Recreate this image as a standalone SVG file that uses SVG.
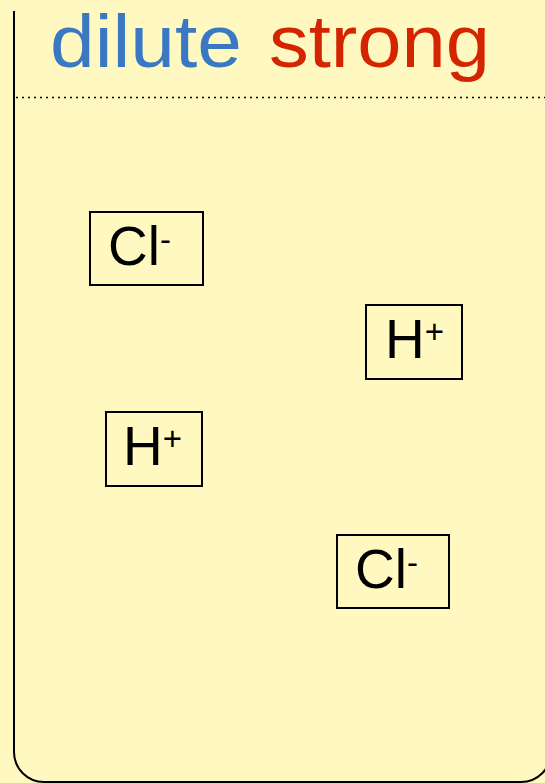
<svg xmlns="http://www.w3.org/2000/svg" width="545" height="783" viewBox="0 0 545 783">
<style>
.ion{fill:none;stroke:#000;stroke-width:2}
.t{font-family:"Liberation Sans",Arial,sans-serif;font-size:55px;fill:#000}
.sup{font-size:33px}
.title{font-family:"Liberation Sans",Arial,sans-serif;font-size:74px}
</style>
<rect x="0" y="0" width="545" height="783" fill="#FFF9C1"/>
<g id="beaker">
<path d="M14,11 V752 A30,30 0 0 0 44,782 H521 A30,30 0 0 0 551,752 V0" fill="none" stroke="#000" stroke-width="2"/>
<line x1="16" y1="97.5" x2="545" y2="97.5" stroke="#000" stroke-width="1.5" stroke-dasharray="2,4"/>
</g>
<g id="title">
<text class="title" x="50" y="67" fill="#3A78C3" textLength="192" lengthAdjust="spacingAndGlyphs">dilute</text>
<text class="title" x="269" y="67" fill="#D42400" textLength="221" lengthAdjust="spacingAndGlyphs">strong</text>
</g>
<g id="cl1">
<rect class="ion" x="90" y="212" width="113" height="73"/>
<text class="t" x="108" y="265">Cl<tspan class="sup" dy="-14">-</tspan></text>
</g>
<g id="h1">
<rect class="ion" x="366" y="305" width="96" height="74"/>
<text class="t" x="385" y="358">H<tspan class="sup" dy="-15">+</tspan></text>
</g>
<g id="h2">
<rect class="ion" x="106" y="412" width="96" height="74"/>
<text class="t" x="123" y="465">H<tspan class="sup" dy="-15">+</tspan></text>
</g>
<g id="cl2">
<rect class="ion" x="337" y="535" width="112" height="73"/>
<text class="t" x="355" y="588">Cl<tspan class="sup" dy="-14">-</tspan></text>
</g>
<g id="connectors"/>
</svg>
